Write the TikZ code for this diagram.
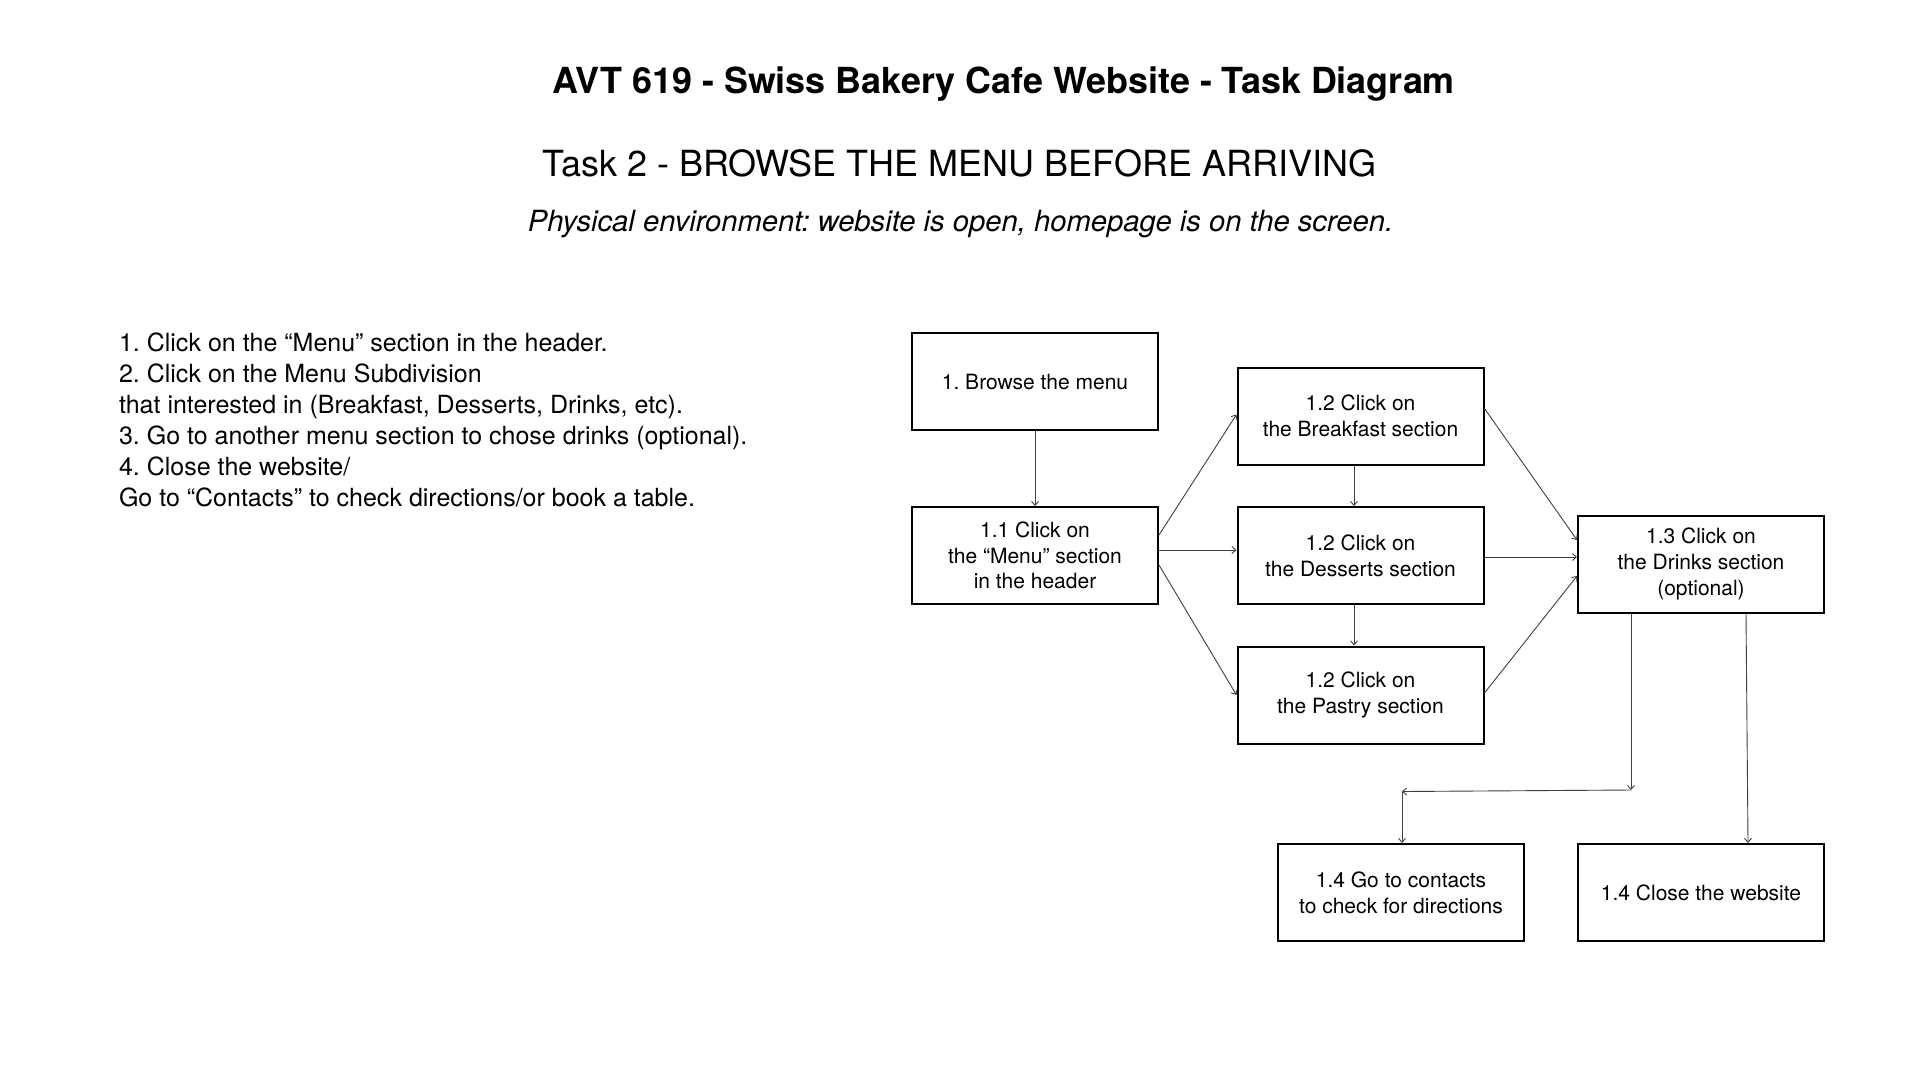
\documentclass[tikz,border=0pt]{standalone}
\usepackage{fontspec}
\setmainfont{TeX Gyre Heros}
\usetikzlibrary{arrows.meta}
\frenchspacing
\begin{document}
\begin{tikzpicture}[x=1pt,y=-1pt,
  box/.style={draw,line width=2pt,minimum width=246pt,minimum height=97pt,inner sep=0pt,align=center,font=\fontsize{21}{25.7}\selectfont},
  conn/.style={draw=black!75,line width=0.9pt,-{Straight Barb[length=4pt,width=7pt]}},
  txt/.style={inner sep=0pt}]
\useasboundingbox[fill=white] (0,0) rectangle (1920,1080);

% titles
\node[txt,font=\bfseries\fontsize{35.9}{40}\selectfont,anchor=base] (title) at (1003.5,93) {AVT 619 - Swiss Bakery Cafe Website - Task Diagram};
\node[txt,font=\fontsize{36}{40}\selectfont,anchor=base] (task) at (959.5,176) {Task 2 - BROWSE THE MENU BEFORE ARRIVING};
\node[txt,font=\itshape\fontsize{29.2}{34}\selectfont,anchor=base] (env) at (960.5,231) {Physical environment: website is open, homepage is on the screen.};

% step list
\node[txt,align=left,anchor=north west,font=\fontsize{25}{30.9}\selectfont] (steps) at (118.8,333) {1. Click on the “Menu” section in the header.\\2. Click on the Menu Subdivision\\that interested in (Breakfast, Desserts, Drinks, etc).\\3. Go to another menu section to chose drinks (optional).\\4. Close the website/\\Go to “Contacts” to check directions/or book a table.};

% boxes
\node[box] (b0) at (1035,381.5) {1. Browse the menu};
\node[box] (b11) at (1035,555.5) {1.1 Click on\\the “Menu” section\\in the header};
\node[box] (bk) at (1360.5,416) {1.2 Click on\\the Breakfast section};
\node[box] (ds) at (1360.5,555.5) {1.2 Click on\\the Desserts section};
\node[box] (ps) at (1360.5,695) {1.2 Click on\\the Pastry section};
\node[box] (dr) at (1701,564) {1.3 Click on\\the Drinks section\\(optional)};
\node[box] (ct) at (1401,892.5) {1.4 Go to contacts\\to check for directions};
\node[box] (cl) at (1701,892.5) {1.4 Close the website};

% connectors
\draw[conn] (b0.south) -- (b11.north);
\draw[conn] ([yshift=20.5pt]b11.east) -- ([yshift=1.5pt]bk.west);
\draw[conn] ([yshift=5.5pt]b11.east) -- ([yshift=5.5pt]ds.west);
\draw[conn] ([yshift=-9.5pt]b11.east) -- (ps.west);
\draw[conn] ([xshift=-6.5pt]bk.south) -- ([xshift=-6.5pt]ds.north);
\draw[conn] ([xshift=-6.5pt]ds.south) -- ([xshift=-6.5pt]ps.north);
\draw[conn] ([yshift=7.5pt]bk.east) -- ([yshift=24pt]dr.west);
\draw[conn] ([yshift=-1.5pt]ds.east) -- ([yshift=7pt]dr.west);
\draw[conn] ([yshift=2pt]ps.east) -- ([yshift=-12pt]dr.west);
\coordinate (c1) at (1631,790);
\coordinate (c2) at (1402,791.5);
\draw[conn] ([xshift=-70pt]dr.south) -- (c1);
\draw[conn] (c1) -- (c2);
\draw[conn] (c2) -- ([xshift=1pt]ct.north);
\draw[conn] ([xshift=45pt]dr.south) -- ([xshift=47pt]cl.north);
\end{tikzpicture}
\end{document}
